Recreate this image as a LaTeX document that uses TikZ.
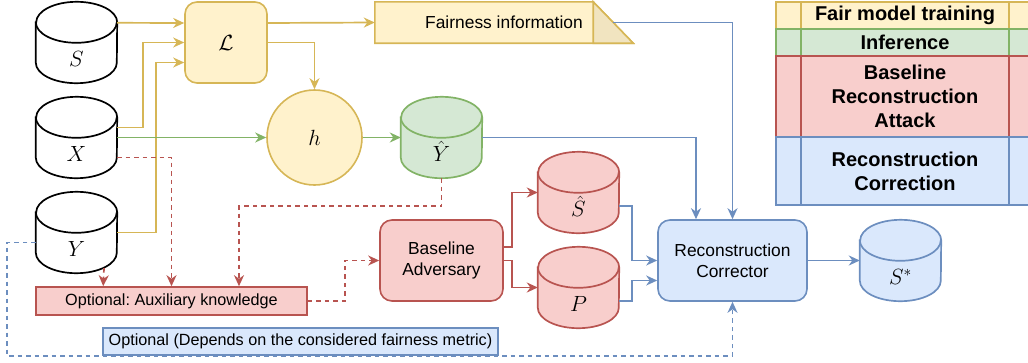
\RequirePackage{fix-cm}
\documentclass[tikz,border=0pt]{standalone}
\usepackage[no-math]{fontspec}
\setmainfont{Liberation Sans}
\usetikzlibrary{arrows.meta,calc}
\frenchspacing
\definecolor{yfill}{HTML}{FFF2CC}\definecolor{ystroke}{HTML}{D6B656}
\definecolor{gfill}{HTML}{D5E8D4}\definecolor{gstroke}{HTML}{82B366}
\definecolor{rfill}{HTML}{F8CECC}\definecolor{rstroke}{HTML}{B85450}
\definecolor{bfill}{HTML}{DAE8FC}\definecolor{bstroke}{HTML}{6C8EBF}
\definecolor{fdark}{HTML}{F1E4C0}
\newcommand\tfont{\fontsize{17.4}{21}\selectfont}
\newcommand\sfont{\fontsize{16.2}{20}\selectfont}
\newcommand\lfont{\fontsize{20}{24}\selectfont\bfseries}
\newcommand\mfont{\fontsize{22}{25}\selectfont}
\newcommand\cylshape[3]{%
  \path[fill=#2,draw=#3,line width=1.7pt] ($(#1.north west)+(0,20.5)$) -- ($(#1.south west)+(0,-20.5)$)
    arc[start angle=180,end angle=0,x radius=40.5,y radius=20.5]
    -- ($(#1.north east)+(0,20.5)$)
    arc[start angle=0,end angle=-180,x radius=40.5,y radius=20.5] -- cycle;
  \draw[draw=#3,line width=1.7pt] ($(#1.north west)+(0,20.5)$)
    arc[start angle=180,end angle=0,x radius=40.5,y radius=20.5];
}
\begin{document}
\begin{tikzpicture}[x=1pt,y=-1pt,
  ln/.style={line width=1.6pt},
  arr/.style={line width=1.7pt,-{Stealth[length=11pt,width=10pt,inset=3.5pt]}},
  dsh/.style={dash pattern=on 4.5pt off 4pt},
  cyl/.style={minimum width=81pt,minimum height=81pt,inner sep=0pt},
  mlab/.style={font=\mfont,inner sep=0pt},
  box/.style={draw,line width=1.6pt,inner sep=0pt,align=center,font=\tfont},
  legrow/.style={draw,line width=1.6pt,inner sep=0pt,align=center,font=\lfont,minimum width=258pt}
]
\useasboundingbox (0,0) rectangle (1028,362);

% ---------- legend ----------
\node[legrow,fill=yfill,draw=ystroke,minimum height=27pt] (LegY) at (905,15.5) {Fair model training};
\node[legrow,fill=gfill,draw=gstroke,minimum height=27pt] (LegG) at (905,42.5) {Inference};
\node[legrow,fill=rfill,draw=rstroke,minimum height=81pt] (LegR) at (905,96.5) {Baseline\\Reconstruction\\Attack};
\node[legrow,fill=bfill,draw=bstroke,minimum height=68pt] (LegB) at (905,171) {Reconstruction\\Correction};
\foreach \n/\c in {LegY/ystroke,LegG/gstroke,LegR/rstroke,LegB/bstroke}{
  \draw[\c,ln] ($(\n.north west)+(26,0)$) -- ($(\n.south west)+(26,0)$);
  \draw[\c,ln] ($(\n.north east)+(-26,0)$) -- ($(\n.south east)+(-26,0)$);
}

% ---------- cylinders ----------
\node[cyl] (S) at (76.5,42.5) {};
\node[cyl] (X) at (76.5,137.5) {};
\node[cyl] (Y) at (76.5,232.5) {};
\node[cyl] (Yh) at (441.5,137.5) {};
\node[cyl] (Sh) at (578.5,192.5) {};
\node[cyl] (P) at (578.5,287.5) {};
\node[cyl] (Ss) at (900.5,260.5) {};
\cylshape{S}{white}{black}
\cylshape{X}{white}{black}
\cylshape{Y}{white}{black}
\cylshape{Yh}{gfill}{gstroke}
\cylshape{Sh}{rfill}{rstroke}
\cylshape{P}{rfill}{rstroke}
\cylshape{Ss}{bfill}{bstroke}
\node[mlab] (Slab) at ($(S.north)+(0,57.5)$) {$S$};
\node[mlab] (Xlab) at ($(X.north)+(0,57.5)$) {$X$};
\node[mlab] (Ylab) at ($(Y.north)+(0,57.5)$) {$Y$};
\node[mlab,anchor=base] (Yhlab) at ($(Yh.north)+(0,65)$) {$\hat{Y}$};
\node[mlab,anchor=base] (Shlab) at ($(Sh.north)+(0,65)$) {$\hat{S}$};
\node[mlab] (Plab) at ($(P.north)+(0,57.5)$) {$P$};
\node[mlab] (Sslab) at ($(Ss.north)+(0,57)$) {$S^{*}$};

% ---------- other nodes ----------
\node[box,fill=yfill,draw=ystroke,rounded corners=12pt,minimum width=82pt,minimum height=81pt,font=\mfont] (L) at (226,42.5) {$\mathcal{L}$};
\node[box,circle,fill=yfill,draw=ystroke,minimum size=95pt,font=\mfont] (h) at (314.5,137.5) {$h$};
\node[minimum width=258pt,minimum height=41pt,inner sep=0pt] (F) at (504,22.5) {};
\path[fill=yfill,draw=ystroke,ln] (F.north west) -- ($(F.north east)+(-40,0)$) -- (F.south east) -- (F.south west) -- cycle;
\path[fill=fdark,draw=ystroke,ln] ($(F.north east)+(-40,0)$) -- (F.south east) -- ($(F.south east)+(-40,0)$) -- cycle;
\node[font=\tfont,inner sep=0pt] (Ftext) at (F.center) {Fairness information};
\node[box,fill=rfill,draw=rstroke,minimum width=271pt,minimum height=28pt,font=\sfont] (Aux) at (171.5,301) {Optional: Auxiliary knowledge};
\node[box,fill=bfill,draw=bstroke,minimum width=395pt,minimum height=27pt,font=\sfont] (Opt) at (300.5,341.5) {Optional (Depends on the considered fairness metric)};
\node[box,fill=rfill,draw=rstroke,rounded corners=12pt,minimum width=123pt,minimum height=81pt] (Adv) at (441.5,260.5) {Baseline\\Adversary};
\node[box,fill=bfill,draw=bstroke,rounded corners=12pt,minimum width=149pt,minimum height=81pt] (Corr) at (732.5,260.5) {Reconstruction\\Corrector};

% ---------- yellow connectors ----------
\draw[arr,ystroke] ($(S.north east)+(0,21)$) -- ($(L.west)+(0,-19.5)$);
\draw[arr,ystroke] ($(X.east)+(0,-10)$) -| ($(L.west)+(-41,0)$) -- (L.west);
\draw[arr,ystroke] (Y.east) -| ($(L.west)+(-28,20)$) -- ($(L.west)+(0,20)$);
\draw[arr,ystroke] ($(L.east)+(0,-19.5)$) -- (F.west);
\draw[arr,ystroke] (L.east) -| (h.north);

% ---------- green connectors ----------
\draw[arr,gstroke] (X.east) -- (h.west);
\draw[arr,gstroke] (h.east) -- (Yh.west);

% ---------- blue connectors ----------
\draw[arr,bstroke] (Yh.east) -| ($(Corr.north)+(-36.5,0)$);
\draw[arr,bstroke] ($(F.east)+(-20,0)$) -| (Corr.north);
\draw[arr,bstroke] ($(Sh.east)+(0,13.5)$) -- ++(13,0) |- (Corr.west);
\draw[arr,bstroke] ($(P.east)+(0,13.5)$) -- ++(13,0) |- ($(Corr.west)+(0,20)$);
\draw[arr,bstroke] (Corr.east) -- (Ss.west);
\draw[arr,bstroke,dsh] ($(Y.west)+(0,10)$) -- ++(-29,0) |- (Opt.south) -| (Corr.south);

% ---------- red connectors ----------
\draw[arr,rstroke,dsh] ($(X.east)+(0,20)$) -| (Aux.north);
\draw[arr,rstroke,dsh] ($(Y.south)+(27.5,-5)$) -- ($(Aux.north west)+(68,0)$);
\draw[arr,rstroke,dsh] (Yh.south) -- ++(0,28) -| ($(Aux.north)+(67.5,0)$);
\draw[arr,rstroke,dsh] (Aux.east) -- ++(37,0) |- (Adv.west);
\draw[arr,rstroke] ($(Adv.east)+(0,-13.5)$) -- ++(8,0) |- (Sh.west);
\draw[arr,rstroke] (Adv.east) -- ++(8,0) |- (P.west);
\end{tikzpicture}
\end{document}
